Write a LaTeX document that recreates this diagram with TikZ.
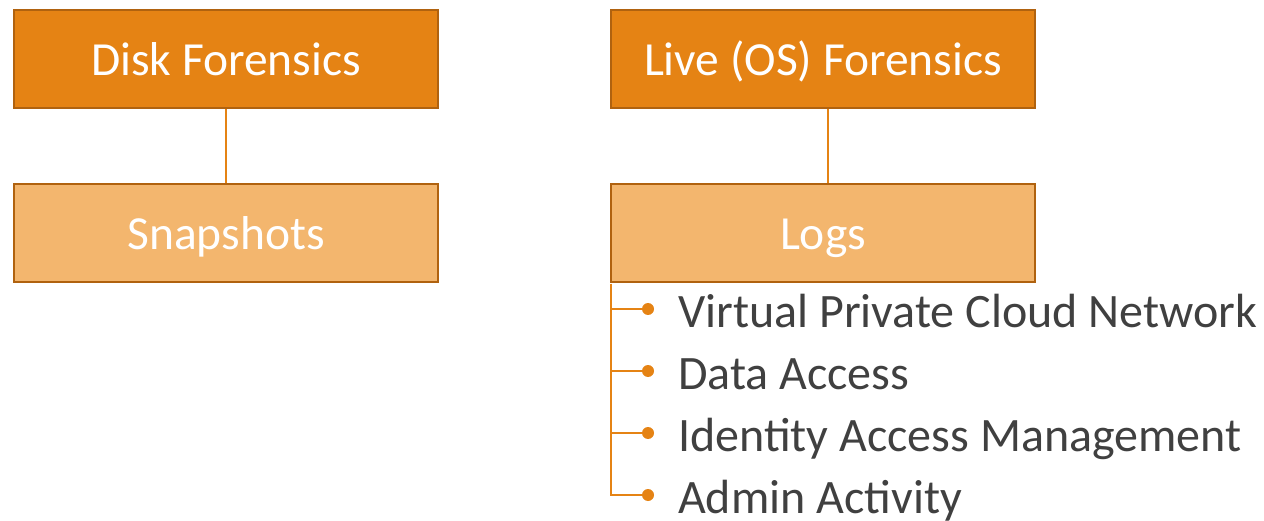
\documentclass[tikz,border=0pt]{standalone}
\usepackage{fontspec}
\setmainfont{Carlito}
\usetikzlibrary{positioning}

\definecolor{topfill}{HTML}{E58314}
\definecolor{subfill}{HTML}{F3B66E}
\definecolor{boxline}{HTML}{B0620F}
\definecolor{itemtext}{HTML}{404040}

\tikzset{
  topbox/.style={draw=boxline, line width=2.5pt, fill=topfill, text=white,
    minimum width=424pt, minimum height=98pt, inner sep=0pt,
    text height=34pt, text depth=0pt, font=\fontsize{47.5}{56}\selectfont},
  subbox/.style={topbox, fill=subfill},
  link/.style={draw=topfill, line width=2pt},
  dot/.style={circle, fill=topfill, inner sep=0pt, minimum size=12pt},
  item/.style={anchor=base west, inner sep=0pt, text=itemtext,
    font=\fontsize{48}{56}\selectfont}
}

\begin{document}
\begin{tikzpicture}[x=1pt, y=-1pt]
\useasboundingbox (0,0) rectangle (1264,521);

% two columns of boxes
\node[topbox] (disk) at (226,59) {Disk Forensics};
\node[subbox] (snap) at (226,233) {Snapshots};
\node[topbox] (live) at (823,59) {Live (OS) Forensics};
\node[subbox] (logs) at (823,233) {Logs};

\draw[link] (disk.south) -- (snap.north);
\draw[link] ([xshift=5pt]live.south) -- ([xshift=5pt]logs.north);

% log sources under Logs
\coordinate (trunk) at (611,284);
\foreach \y/\name [count=\i] in {309/Virtual Private Cloud Network,
                                 371/Data Access,
                                 433/Identity Access Management,
                                 495/Admin Activity}
{
  \node[dot] (d\i) at (648,\y) {};
  \draw[link] (trunk) |- (d\i);
  \node[item] (t\i) at (678,\y+18) {\name};
}

\end{tikzpicture}
\end{document}
